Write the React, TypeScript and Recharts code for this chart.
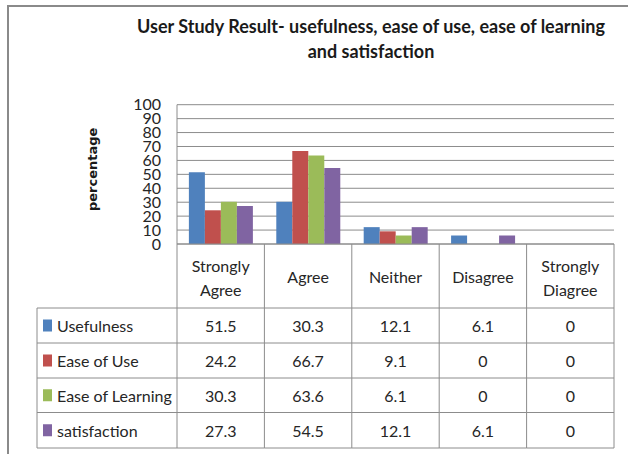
import React from 'react';
import { BarChart, Bar, XAxis, YAxis, CartesianGrid } from 'recharts';

const categories = ['Strongly Agree', 'Agree', 'Neither', 'Disagree', 'Strongly Diagree'];
const seriesNames = ['Usefulness', 'Ease of Use', 'Ease of Learning', 'satisfaction'];
const usefulness = [51.5, 30.3, 12.1, 6.1, 0];
const easeOfUse = [24.2, 66.7, 9.1, 0, 0];
const easeOfLearning = [30.3, 63.6, 6.1, 0, 0];
const satisfaction = [27.3, 54.5, 12.1, 6.1, 0];
const yTicks = [0, 10, 20, 30, 40, 50, 60, 70, 80, 90, 100];

const seriesValues = [usefulness, easeOfUse, easeOfLearning, satisfaction];
const seriesKeys = ['usefulness', 'easeOfUse', 'easeOfLearning', 'satisfaction'];
const colors = ['#4F81BD', '#C0504D', '#9BBB59', '#8064A2'];

const data = categories.map((name, i) => {
  const row: any = { name };
  seriesKeys.forEach((k, s) => {
    row[k] = seriesValues[s][i];
  });
  return row;
});

const GRID = '#8c8c8c';
const TEXT = '#262626';
const FONT = 'Lato, "Open Sans", sans-serif';
const HEADER_H = 64;
const ROW_EDGES = [64, 99, 134, 168.5, 204];
const TABLE_H = 204;
const LABEL_COL = 140;

function TableTick(props: any) {
  const { x, y, payload, index } = props;
  const half = payload && payload.offset ? payload.offset : 43.7;
  const left = x - half;
  const right = x + half;
  const y0 = y;
  const label: string = String(payload.value);
  const sp = label.indexOf(' ');
  const lines = sp > 0 ? [label.slice(0, sp), label.slice(sp + 1)] : [label];
  const ci = categories.indexOf(label);
  const textProps = { fontFamily: FONT, fontSize: 16, fill: TEXT, textAnchor: 'middle' as const, dominantBaseline: 'central' as const };
  return (
    <g>
      <line x1={right} x2={right} y1={y0} y2={y0 + TABLE_H} stroke={GRID} />
      {index === 0 && <line x1={left} x2={left} y1={y0} y2={y0 + TABLE_H} stroke={GRID} />}
      {ROW_EDGES.map((e, k) => (
        <line key={k} x1={index === 0 ? left - LABEL_COL : left} x2={right} y1={y0 + e} y2={y0 + e} stroke={GRID} />
      ))}
      {lines.length === 1 ? (
        <text x={x} y={y0 + HEADER_H / 2} {...textProps}>{lines[0]}</text>
      ) : (
        lines.map((l, k) => (
          <text key={k} x={x} y={y0 + 21 + k * 24} {...textProps}>{l}</text>
        ))
      )}
      {seriesValues.map((vals, s) => (
        <text key={s} x={x} y={y0 + (ROW_EDGES[s] + ROW_EDGES[s + 1]) / 2} {...textProps}>
          {String(vals[ci])}
        </text>
      ))}
      {index === 0 && (
        <g>
          <line x1={left - LABEL_COL} x2={left - LABEL_COL} y1={y0 + HEADER_H} y2={y0 + TABLE_H} stroke={GRID} />
          {seriesNames.map((n, s) => {
            const cy = y0 + (ROW_EDGES[s] + ROW_EDGES[s + 1]) / 2;
            return (
              <g key={s}>
                <rect x={left - LABEL_COL + 6} y={cy - 6} width={9} height={12} fill={colors[s]} />
                <text x={left - LABEL_COL + 20} y={cy} fontFamily={FONT} fontSize={16} fill={TEXT} dominantBaseline="central">
                  {n}
                </text>
              </g>
            );
          })}
        </g>
      )}
    </g>
  );
}

function YLabel(props: any) {
  const vb = props.viewBox || { x: 0, y: 104.7, width: 177, height: 139.3 };
  const cx = 93;
  const cy = vb.y + vb.height / 2 - 5;
  return (
    <text x={cx} y={cy} transform={`rotate(-90 ${cx} ${cy})`} textAnchor="middle" dominantBaseline="central"
      fontFamily='"DejaVu Sans", sans-serif' fontWeight="bold" fontSize={13} fill="#1a1a1a">
      percentage
    </text>
  );
}

export default function App() {
  return (
    <div style={{ position: 'absolute', left: 0, top: 0, width: 628, height: 454, overflow: 'hidden', background: '#fff' }}>
      <div style={{ position: 'absolute', left: 7, top: 5, width: 700, height: 500, border: '2px solid #8a8a8a', boxSizing: 'border-box' }} />
      <div style={{ position: 'absolute', left: 71, top: 14, width: 600, textAlign: 'center', fontFamily: FONT, fontWeight: 'bold', fontSize: 18, lineHeight: '25px', color: '#1a1a1a' }}>
        User Study Result- usefulness, ease of use, ease of learning
        <br />
        and satisfaction
      </div>
      <div style={{ position: 'absolute', left: 0, top: 0 }}>
        <BarChart width={628} height={454} data={data} margin={{ top: 104.7, right: 14, bottom: 6, left: 0 }}
          barCategoryGap="13.6%" barGap={0}>
          <CartesianGrid vertical={false} stroke={GRID} />
          <XAxis dataKey="name" height={TABLE_H} interval={0} tickLine={false} tickSize={0} tickMargin={0}
            axisLine={{ stroke: GRID }} tick={(p: any) => <TableTick {...p} />} />
          <YAxis width={177} domain={[0, 100]} ticks={yTicks} interval={0} tickLine={false} tickSize={0} tickMargin={16}
            axisLine={{ stroke: GRID }} tick={{ fontFamily: FONT, fontSize: 16, fill: TEXT }}
            label={<YLabel />} />
          {seriesKeys.map((k, s) => (
            <Bar key={k} dataKey={k} name={seriesNames[s]} fill={colors[s]} isAnimationActive={false} />
          ))}
        </BarChart>
      </div>
    </div>
  );
}
